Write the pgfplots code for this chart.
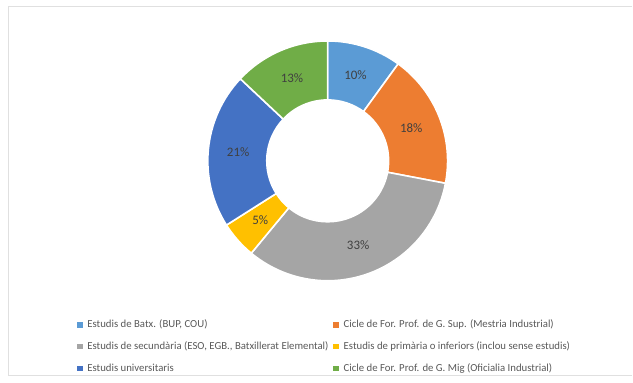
\documentclass[border=0pt]{standalone}
\usepackage{fontspec}
\setmainfont{Carlito}
\usepackage{pgfplots}
\usepackage{pgfplotstable}
\pgfplotsset{compat=1.18}

\definecolor{c1}{HTML}{5B9BD5}
\definecolor{c2}{HTML}{ED7D31}
\definecolor{c3}{HTML}{A5A5A5}
\definecolor{c4}{HTML}{FFC000}
\definecolor{c5}{HTML}{4472C4}
\definecolor{c6}{HTML}{70AD47}
\definecolor{txt}{HTML}{404040}
\definecolor{legtxt}{HTML}{595959}

% share of each group, clockwise from 12 o'clock
\pgfplotstableread[col sep=comma]{
value,col
10,c1
18,c2
33,c3
5,c4
21,c5
13,c6
}\donutdata

\pgfplotsset{
  sq/.style={legend image code/.code={\fill[#1] (0bp,-2.2bp) rectangle (4.4bp,2.2bp);}},
}

\begin{document}
\begin{tikzpicture}
\begin{axis}[
  width=633bp, height=383bp, scale only axis,
  xmin=0, xmax=633, ymin=0, ymax=383, y dir=reverse,
  hide axis, clip=false,
  legend columns=2,
  legend cell align=left,
  legend style={draw=none, fill=none, at={(axis cs:77,318)}, anchor=north west,
    font=\fontsize{10.8}{12}\selectfont, text=legtxt,
    /tikz/every odd column/.append style={column sep=3.5bp},
    /tikz/every even column/.append style={column sep=3bp},
    row sep=8.5bp, inner sep=0pt},
]
\pgfplotsextra{
  \fill[white] (axis cs:0,0) rectangle (axis cs:633,383);
  \draw[black!12, line width=1.2bp] (axis cs:633,6.5) -- (axis cs:8.5,6.5) -- (axis cs:8.5,376) -- (axis cs:633,376);
  \def\cum{0}
  \pgfplotsforeachungrouped \i in {0,...,5}{
    \pgfplotstablegetelem{\i}{value}\of\donutdata \let\v\pgfplotsretval
    \pgfplotstablegetelem{\i}{col}\of\donutdata \let\wcol\pgfplotsretval
    \pgfmathsetmacro\a{90-3.6*\cum}
    \pgfmathsetmacro\b{90-3.6*(\cum+\v)}
    \pgfmathsetmacro\m{(\a+\b)/2}
    \fill[fill=\wcol, draw=white, line width=1.6bp, line join=round]
      (axis cs:328,161) ++(\a:120bp) arc[start angle=\a, end angle=\b, radius=120bp]
      -- ++(\b:-59bp) arc[start angle=\b, end angle=\a, radius=61bp] -- cycle;
    \path (axis cs:328,161) ++(\m:90bp) node[text=txt, font=\fontsize{13}{14}\selectfont] {\v\%};
    \pgfmathsetmacro\cum{\cum+\v}
  }
}
\addlegendimage{sq=c1}\addlegendentry{Estudis de Batx. (BUP, COU)}
\addlegendimage{sq=c2}\addlegendentry{Cicle de For. Prof. de G. Sup. (Mestria Industrial)}
\addlegendimage{sq=c3}\addlegendentry{Estudis de secundària (ESO, EGB., Batxillerat Elemental)}
\addlegendimage{sq=c4}\addlegendentry{Estudis de primària o inferiors (inclou sense estudis)}
\addlegendimage{sq=c5}\addlegendentry{Estudis universitaris}
\addlegendimage{sq=c6}\addlegendentry{Cicle de For. Prof. de G. Mig (Oficialia Industrial)}
\end{axis}
\end{tikzpicture}
\end{document}
